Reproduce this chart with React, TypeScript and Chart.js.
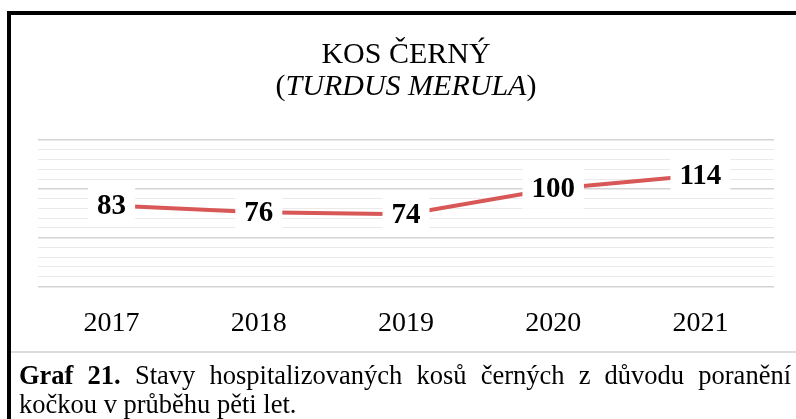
import React, { useEffect, useRef } from "react";
import { Chart, registerables } from "chart.js";

Chart.register(...registerables);

// ---- data ----
const categories: string[] = ["2017", "2018", "2019", "2020", "2021"];
const values: number[] = [83, 76, 74, 100, 114];
const yMin = 0;
const yMax = 150;
const yMinorStep = 10;
const yMajorStep = 50;

const titleLine1 = "KOS ČERNÝ";
const titleLine2Open = "(";
const titleLine2Latin = "TURDUS MERULA";
const titleLine2Close = ")";

const captionBold = "Graf 21.";
const captionText =
  "Stavy hospitalizovaných kosů černých z\u00A0důvodu poranění kočkou v průběhu pěti let.";

const SERIF = '"Liberation Serif", "Times New Roman", Times, serif';

const titlePlugin = {
  id: "mixedTitle",
  afterDraw(chart: any) {
    const ctx = chart.ctx as CanvasRenderingContext2D;
    const cx = (chart.chartArea.left + chart.chartArea.right) / 2;
    ctx.save();
    ctx.fillStyle = "#000";
    ctx.textBaseline = "alphabetic";
    ctx.textAlign = "center";
    const normal = `30px ${SERIF}`;
    const italic = `italic 30px ${SERIF}`;
    ctx.font = normal;
    ctx.fillText(titleLine1, cx, 63);
    const parts: [string, string][] = [
      [titleLine2Open, normal],
      [titleLine2Latin, italic],
      [titleLine2Close, normal],
    ];
    let total = 0;
    const widths = parts.map(([t, f]) => {
      ctx.font = f;
      const w = ctx.measureText(t).width;
      total += w;
      return w;
    });
    ctx.textAlign = "left";
    let x = cx - total / 2;
    parts.forEach(([t, f], i) => {
      ctx.font = f;
      ctx.fillText(t, x, 95);
      x += widths[i];
    });
    ctx.restore();
  },
};

const labelPlugin = {
  id: "valueLabels",
  afterDatasetsDraw(chart: any) {
    const ctx = chart.ctx as CanvasRenderingContext2D;
    const meta = chart.getDatasetMeta(0);
    const data = chart.data.datasets[0].data as number[];
    ctx.save();
    ctx.font = `bold 29px ${SERIF}`;
    ctx.textAlign = "center";
    ctx.textBaseline = "middle";
    meta.data.forEach((el: any, i: number) => {
      const txt = String(data[i]);
      const w = ctx.measureText(txt).width + 18;
      const h = 40;
      ctx.fillStyle = "#ffffff";
      ctx.fillRect(el.x - w / 2, el.y - h / 2, w, h);
      ctx.fillStyle = "#000";
      ctx.fillText(txt, el.x, el.y + 1);
    });
    ctx.restore();
  },
};

function ChartCanvas() {
  const ref = useRef<HTMLCanvasElement | null>(null);
  useEffect(() => {
    if (!ref.current) return;
    const chart = new Chart(ref.current, {
      type: "line",
      data: {
        labels: categories,
        datasets: [
          {
            data: values,
            borderColor: "rgb(216, 88, 88)",
            borderWidth: 4,
            pointRadius: 0,
            pointHoverRadius: 0,
            tension: 0,
            fill: false,
          },
        ],
      },
      options: {
        animation: false,
        responsive: false,
        devicePixelRatio: 1,
        layout: { padding: { left: 38, right: 22, top: 140, bottom: 12 } },
        plugins: {
          legend: { display: false },
          tooltip: { enabled: false },
          title: { display: false },
        },
        scales: {
          x: {
            type: "category",
            offset: true,
            grid: { display: false, drawTicks: false },
            border: { display: false },
            ticks: {
              color: "#000",
              font: { family: SERIF, size: 28 },
              padding: 20,
              maxRotation: 0,
              autoSkip: false,
            },
          },
          y: {
            min: yMin,
            max: yMax,
            border: { display: false },
            grid: {
              drawTicks: false,
              color: (c: any) =>
                c.tick && c.tick.value % yMajorStep === 0 ? "#d4d4d4" : "#eaeaea",
              lineWidth: (c: any) =>
                c.tick && c.tick.value % yMajorStep === 0 ? 1.6 : 1,
            },
            ticks: { display: false, stepSize: yMinorStep },
          },
        },
      },
      plugins: [labelPlugin, titlePlugin],
    });
    return () => chart.destroy();
  }, []);
  return (
    <canvas
      ref={ref}
      width={796}
      height={372}
      style={{ position: "absolute", left: 0, top: 0, width: 796, height: 372 }}
    />
  );
}

export default function App() {
  return (
    <div
      style={{
        position: "fixed",
        left: 0,
        top: 0,
        width: 796,
        height: 419,
        overflow: "hidden",
        background: "#fff",
      }}
    >
      <div
        style={{
          position: "absolute",
          left: 7,
          top: 11,
          width: 900,
          height: 500,
          borderTop: "4px solid #000",
          borderLeft: "4px solid #000",
          boxSizing: "border-box",
        }}
      />
      <ChartCanvas />
      <div
        style={{
          position: "absolute",
          left: 11,
          top: 351,
          width: 800,
          height: 2,
          background: "#dcdcdc",
        }}
      />
      <div
        style={{
          position: "absolute",
          left: 19,
          top: 361,
          width: 772,
          fontFamily: SERIF,
          fontSize: 26.5,
          lineHeight: "29px",
          textAlign: "justify",
          color: "#000",
        }}
      >
        <b>{captionBold}</b> {captionText}
      </div>
    </div>
  );
}
